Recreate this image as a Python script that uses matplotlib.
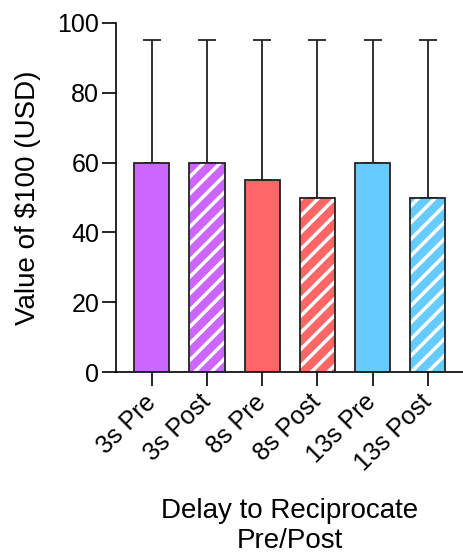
import numpy as np
import matplotlib.pyplot as plt

plt.rcParams['font.family'] = ['Liberation Sans', 'DejaVu Sans']
plt.rcParams['hatch.linewidth'] = 2.5

labels = ['3s Pre', '3s Post', '8s Pre', '8s Post', '13s Pre', '13s Post']
means = [60, 60, 55, 50, 60, 50]
upper = [95, 95, 95, 95, 95, 95]
colors = ['#CC66FF', '#CC66FF', '#FF6666', '#FF6666', '#66CCFF', '#66CCFF']
hatched = [False, True, False, True, False, True]

fig = plt.figure(figsize=(4.63, 5.57), dpi=100)
ax = fig.add_axes([0.2505, 0.332, 0.7495, 0.6268])

x = np.arange(len(labels))
err = np.array(upper) - np.array(means)
w = 0.64

# colored fill with white stripes for the "Post" bars
for i in range(len(labels)):
    if hatched[i]:
        ax.bar(x[i], means[i], w, color=colors[i], edgecolor='white',
               hatch='//', linewidth=0, zorder=2)
    else:
        ax.bar(x[i], means[i], w, color=colors[i], linewidth=0, zorder=2)
ax.bar(x, means, w, facecolor='none', edgecolor='#222222', linewidth=1.3, zorder=3)
ax.errorbar(x, means, yerr=[np.zeros(len(x)), err], fmt='none', ecolor='#222222',
            elinewidth=1.3, capsize=6.5, capthick=1.3, zorder=1)

ax.set_xlim(-0.65, 5.64)
ax.set_ylim(0, 100)
ax.set_yticks([0, 20, 40, 60, 80, 100])
ax.set_xticks(x)
ax.set_xticklabels(labels, rotation=45, ha='right', va='center',
                   rotation_mode='anchor', fontsize=18)
ax.tick_params(axis='y', labelsize=18, length=10, width=1.2, pad=2)
ax.tick_params(axis='x', length=10, width=1.2, pad=9)
for s in ['top', 'right']:
    ax.spines[s].set_visible(False)
for s in ['left', 'bottom']:
    ax.spines[s].set_linewidth(1.2)
ax.set_ylabel('Value of $100 (USD)', fontsize=20, labelpad=12)
ax.set_xlabel('Delay to Reciprocate\nPre/Post', fontsize=20, labelpad=16)

fig.savefig('out.png', dpi=100)
